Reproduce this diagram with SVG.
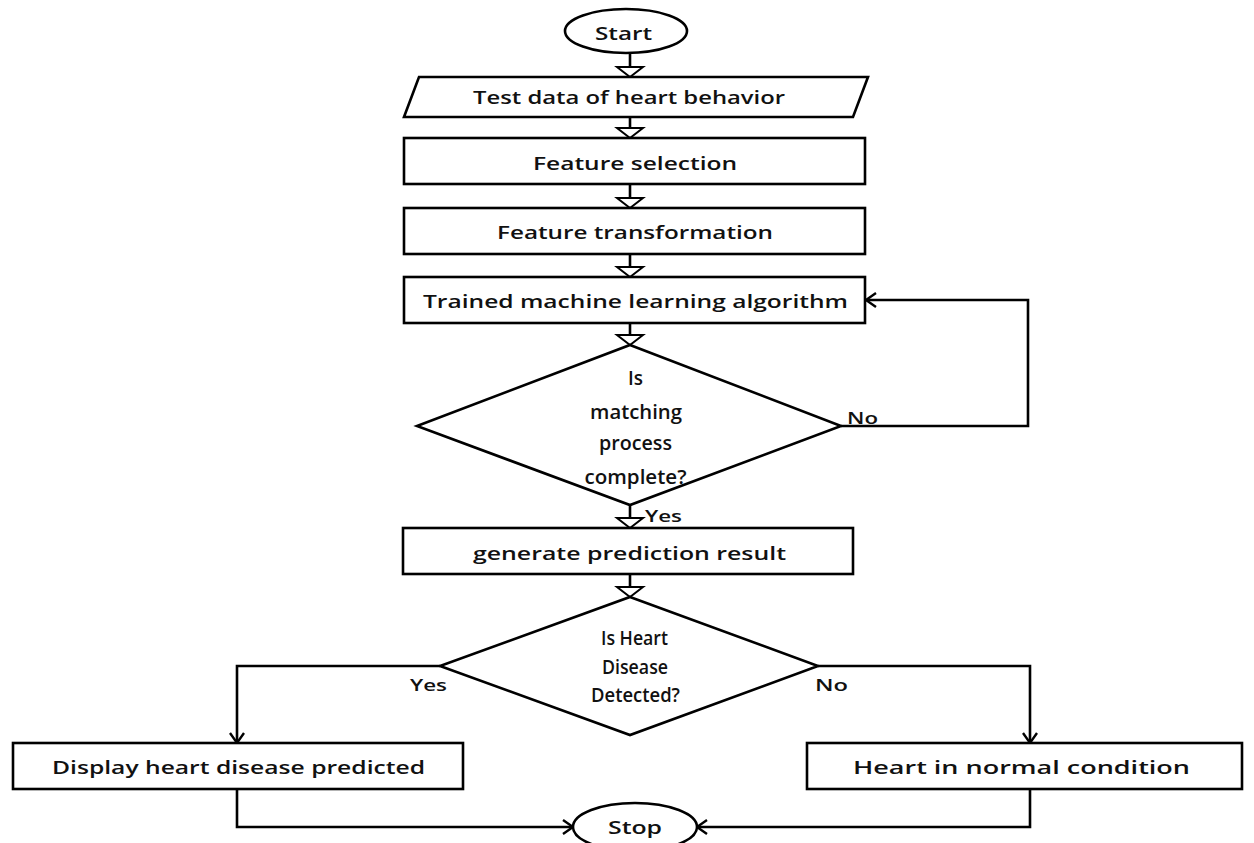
<svg xmlns="http://www.w3.org/2000/svg" width="1254" height="843" viewBox="0 0 1254 843">
<style>
.shape{fill:#fff;stroke:#000;stroke-width:2.6}
.t{font-family:"Open Sans","Liberation Sans",sans-serif;font-weight:600;font-size:18px;fill:#111;text-anchor:middle}
.d{font-family:"Open Sans","Liberation Sans",sans-serif;font-weight:600;font-size:19px;fill:#111;text-anchor:middle}
.lbl{font-family:"Open Sans","Liberation Sans",sans-serif;font-weight:600;font-size:17px;fill:#111;text-anchor:middle}
.c{fill:none;stroke:#000;stroke-width:2.6}
.tri{marker-end:url(#tri)}
.vee{marker-end:url(#vee)}
</style>
<defs>
<marker id="tri" markerUnits="userSpaceOnUse" markerWidth="14" markerHeight="30" refX="11" refY="13" orient="auto" overflow="visible">
<path d="M1,0 L11,13 L1,26 Z" fill="#fff" stroke="#000" stroke-width="2"/>
</marker>
<marker id="vee" markerUnits="userSpaceOnUse" markerWidth="14" markerHeight="16" refX="11" refY="7" orient="auto" overflow="visible">
<path d="M1,0 L11,7 L1,14" fill="none" stroke="#000" stroke-width="2.4"/>
</marker>
</defs>
<rect width="1254" height="843" fill="#fff"/>
<g id="connectors">
<path class="c tri" d="M630,53 V77"/>
<path class="c tri" d="M630,117 V138"/>
<path class="c tri" d="M630,184 V208"/>
<path class="c tri" d="M630,254 V277"/>
<path class="c tri" d="M630,323 V345"/>
<path class="c tri" d="M630,505 V528"/>
<path class="c tri" d="M630,574 V597"/>
<path class="c vee" d="M841,426 H1028 V300 H866"/>
<path class="c vee" d="M440,666 H237 V743"/>
<path class="c vee" d="M818,666 H1030 V743"/>
<path class="c vee" d="M237,789 V827 H573"/>
<path class="c vee" d="M1030,789 V827 H697"/>
<text class="lbl" x="862.5" y="424" textLength="31" lengthAdjust="spacingAndGlyphs">No</text>
<text class="lbl" x="663.5" y="522" textLength="37" lengthAdjust="spacingAndGlyphs">Yes</text>
<text class="lbl" x="428.5" y="691" textLength="37" lengthAdjust="spacingAndGlyphs">Yes</text>
<text class="lbl" x="831.5" y="691" textLength="33" lengthAdjust="spacingAndGlyphs">No</text>
</g>
<g id="start">
<ellipse class="shape" cx="626" cy="31" rx="61" ry="22"/>
<text class="t" x="623.5" y="39.5" font-size="20" textLength="57" lengthAdjust="spacingAndGlyphs">Start</text>
</g>
<g id="test-data">
<polygon class="shape" points="419,77 868,77 853,117 404,117"/>
<text class="t" x="629" y="103.5" textLength="312" lengthAdjust="spacingAndGlyphs">Test data of heart behavior</text>
</g>
<g id="feature-selection">
<rect class="shape" x="404" y="138" width="461" height="46"/>
<text class="t" x="635" y="169.5" textLength="204" lengthAdjust="spacingAndGlyphs">Feature selection</text>
</g>
<g id="feature-transformation">
<rect class="shape" x="404" y="208" width="461" height="46"/>
<text class="t" x="635" y="238.5" textLength="276" lengthAdjust="spacingAndGlyphs">Feature transformation</text>
</g>
<g id="trained-ml">
<rect class="shape" x="404" y="277" width="461" height="46"/>
<text class="t" x="635.5" y="307.5" textLength="425" lengthAdjust="spacingAndGlyphs">Trained machine learning algorithm</text>
</g>
<g id="matching-decision">
<polygon class="shape" points="630,345 841,426 630,505 417,426"/>
<text class="d" x="635.5" y="384.5" textLength="15" lengthAdjust="spacingAndGlyphs">Is</text>
<text class="d" x="636" y="418.5" textLength="92" lengthAdjust="spacingAndGlyphs">matching</text>
<text class="d" x="635.5" y="449.5" textLength="73" lengthAdjust="spacingAndGlyphs">process</text>
<text class="d" x="635.5" y="483.5" textLength="102" lengthAdjust="spacingAndGlyphs">complete?</text>
</g>
<g id="generate-result">
<rect class="shape" x="403" y="528" width="450" height="46"/>
<text class="t" x="629.5" y="559.5" textLength="313" lengthAdjust="spacingAndGlyphs">generate prediction result</text>
</g>
<g id="disease-decision">
<polygon class="shape" points="630,597 818,666 630,735 440,666"/>
<text class="d" x="634.5" y="644.5" textLength="67" lengthAdjust="spacingAndGlyphs">Is Heart</text>
<text class="d" x="635" y="673.5" textLength="66" lengthAdjust="spacingAndGlyphs">Disease</text>
<text class="d" x="635.5" y="701.5" textLength="89" lengthAdjust="spacingAndGlyphs">Detected?</text>
</g>
<g id="display-predicted">
<rect class="shape" x="13" y="743" width="450" height="46"/>
<text class="t" x="238.5" y="774" textLength="373" lengthAdjust="spacingAndGlyphs">Display heart disease predicted</text>
</g>
<g id="normal-condition">
<rect class="shape" x="807" y="743" width="435" height="46"/>
<text class="t" x="1021.5" y="774" textLength="337" lengthAdjust="spacingAndGlyphs">Heart in normal condition</text>
</g>
<g id="stop">
<ellipse class="shape" cx="635" cy="827" rx="62" ry="24"/>
<text class="t" x="635" y="833.5" font-size="20" textLength="54" lengthAdjust="spacingAndGlyphs">Stop</text>
</g>
</svg>
